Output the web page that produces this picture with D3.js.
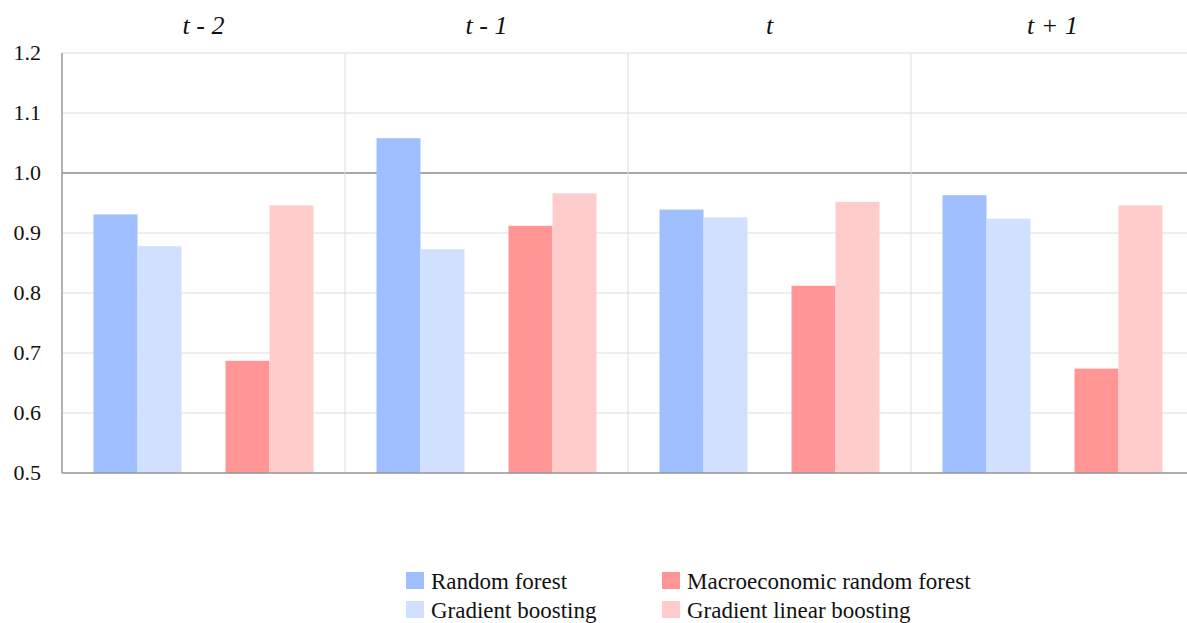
<!DOCTYPE html>
<html><head><meta charset="utf-8">
<script src="https://cdn.jsdelivr.net/npm/d3@7"></script>
<style>body{margin:0;background:#fff}</style>
</head><body><svg id="c" width="1187" height="623" font-family="'Liberation Serif','DejaVu Serif',serif"></svg>
<script>
const periods = ["t - 2","t - 1","t","t + 1"];
const series = ["Random forest","Gradient boosting","Macroeconomic random forest","Gradient linear boosting"];
const colors = ["#a0bfff","#d2e0ff","#ff9595","#ffcccc"];
const rf  = [0.931,1.058,0.939,0.963];
const gb  = [0.878,0.873,0.926,0.924];
const mrf = [0.687,0.912,0.812,0.674];
const glb = [0.946,0.966,0.952,0.946];
const yTicks = [0.5,0.6,0.7,0.8,0.9,1.0,1.1,1.2];
const values = [rf,gb,mrf,glb];
const slots = [0,1,3,4];

const svg = d3.select("#c");
const L=62,R=1194,T=53,B=473;
const x = d3.scaleBand().domain(periods).range([L,R]);
const y = d3.scaleLinear().domain([0.5,1.2]).range([B,T]);
const inner = d3.scaleBand().domain(d3.range(5)).range([0,x.bandwidth()]).paddingOuter(0.716);

yTicks.forEach(t=>{
  svg.append("line").attr("x1",L).attr("x2",R).attr("y1",y(t)).attr("y2",y(t))
    .attr("stroke",t===1.0?"#888":"#ddd").attr("stroke-width",t===1.0?1.5:1);
  svg.append("text").attr("x",L-21).attr("y",y(t)+7).attr("text-anchor","end")
    .attr("font-size",22).attr("fill","#111").text(t.toFixed(1));
});
periods.forEach((p,i)=>{
  if(i>0) svg.append("line").attr("x1",x(p)).attr("x2",x(p)).attr("y1",T).attr("y2",B).attr("stroke","#ddd");
  svg.append("text").attr("x",x(p)+x.bandwidth()/2).attr("y",34).attr("text-anchor","middle")
    .attr("font-size",26).attr("font-style","italic").attr("fill","#111").text(p);
});
svg.append("line").attr("x1",R).attr("x2",R).attr("y1",T).attr("y2",B).attr("stroke","#ddd");
values.forEach((vals,s)=>{
  svg.selectAll(null).data(vals).enter().append("rect")
    .attr("x",(d,i)=>x(periods[i])+inner(slots[s]))
    .attr("width",inner.bandwidth())
    .attr("y",d=>y(d)).attr("height",d=>B-y(d)).attr("fill",colors[s]);
});
svg.append("line").attr("x1",L).attr("x2",L).attr("y1",T).attr("y2",B).attr("stroke","#999").attr("stroke-width",1.5);
svg.append("line").attr("x1",L).attr("x2",R).attr("y1",B).attr("y2",B).attr("stroke","#999").attr("stroke-width",1.5);

const lx=[406,662], ly=[581,610];
series.forEach((s,i)=>{
  const cx=lx[i>=2?1:0], cy=ly[i%2];
  svg.append("rect").attr("x",cx).attr("y",cy-9).attr("width",18).attr("height",17).attr("fill",colors[i]);
  svg.append("text").attr("x",cx+25).attr("y",cy+8).attr("font-size",23).attr("fill","#111").text(s);
});
</script></body></html>
